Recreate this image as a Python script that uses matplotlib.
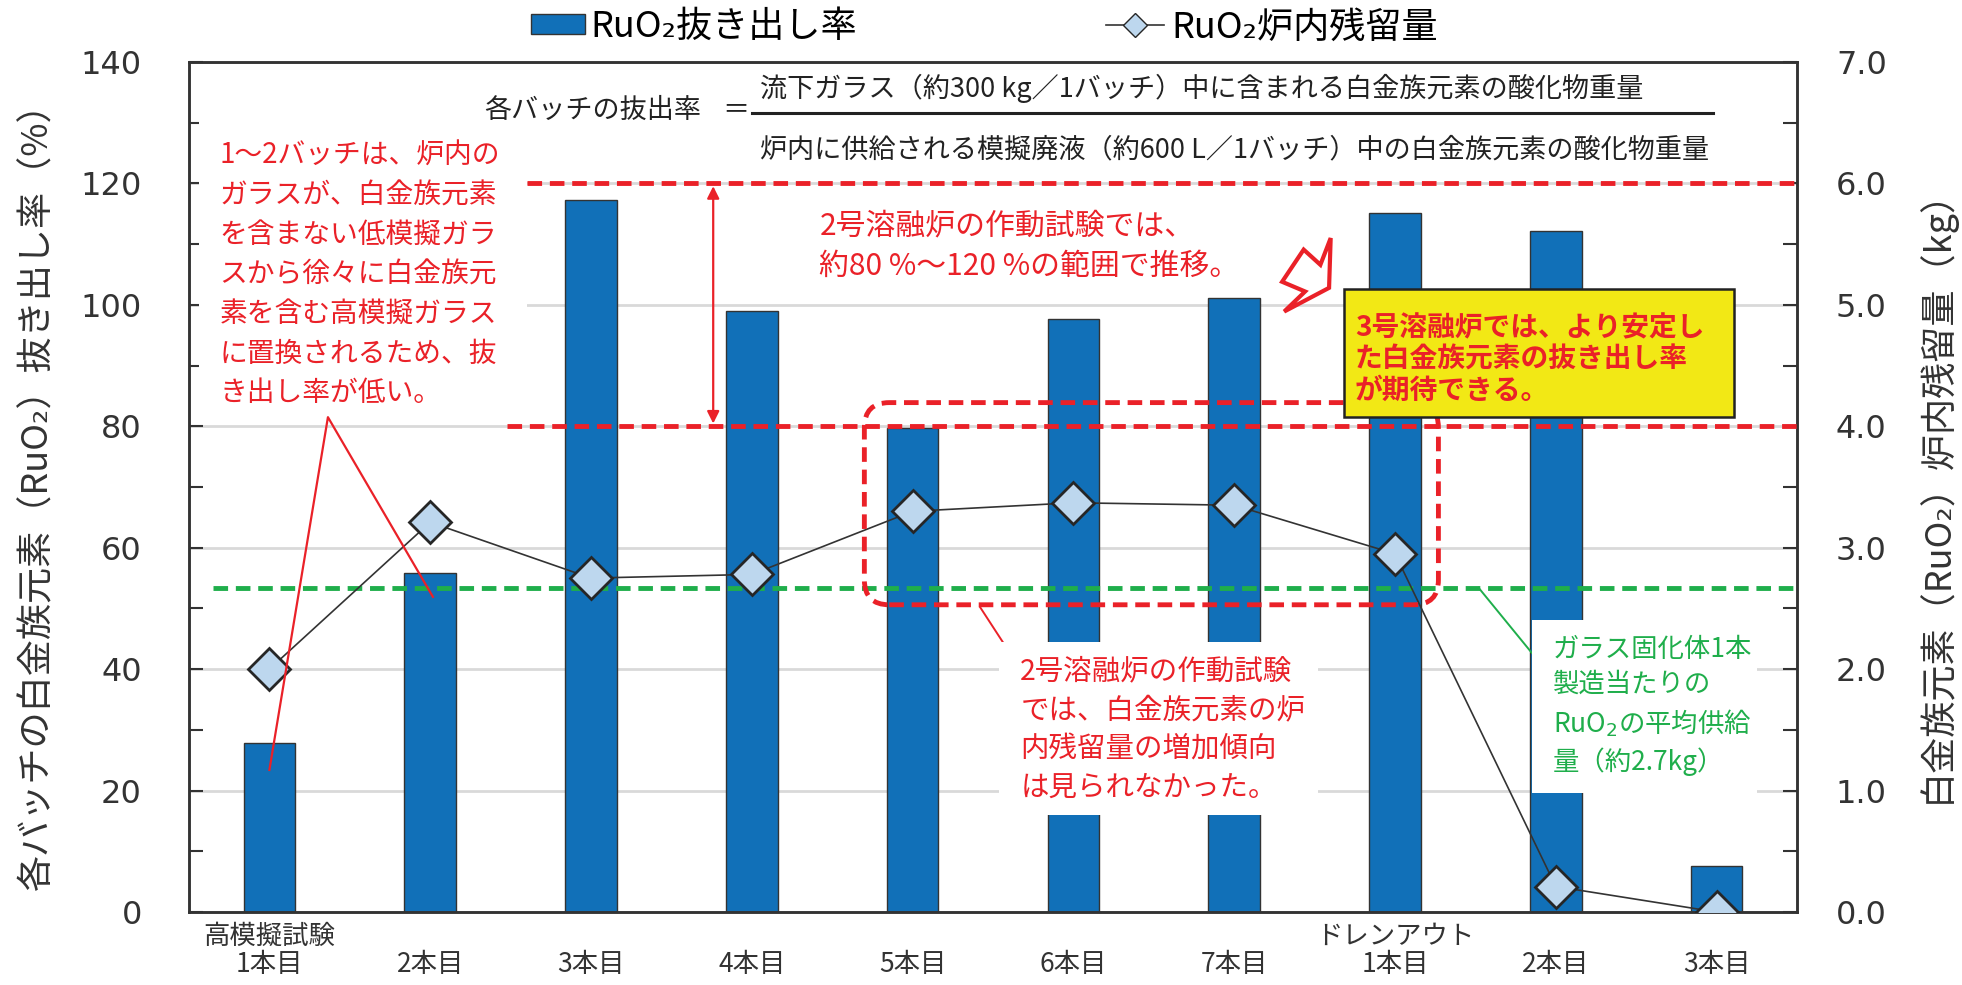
import matplotlib
matplotlib.use('Agg')
import matplotlib.pyplot as plt
from matplotlib.patches import FancyBboxPatch, Polygon, Patch, Rectangle
from matplotlib.lines import Line2D

plt.rcParams['font.family'] = ['Noto Sans CJK JP', 'DejaVu Sans']

# data
batches = ['高模擬試験\n1本目', '\n2本目', '\n3本目', '\n4本目', '\n5本目',
           '\n6本目', '\n7本目', 'ドレンアウト\n1本目', '\n2本目', '\n3本目']
extraction_rate = [27.8, 55.8, 117.3, 99.0, 79.8, 97.6, 101.1, 115.1, 112.2, 7.5]   # %
residue_kg = [2.0, 3.21, 2.75, 2.78, 3.30, 3.37, 3.35, 2.95, 0.21, 0.0]             # kg
avg_supply_kg = 2.67
range_low, range_high = 80, 120

RED = '#ea2128'
GREEN = '#1fae4b'
BLUE = '#1170b8'
DARK = '#333333'

fig = plt.figure(figsize=(19.62, 9.85), dpi=100)
ax = fig.add_axes([189 / 1962, 73 / 985, 1608 / 1962, 850 / 985])
ax2 = ax.twinx()

x = list(range(len(batches)))
ax.bar(x, extraction_rate, width=0.32, color=BLUE, edgecolor=DARK, linewidth=1, zorder=2)
ax.set_xlim(-0.5, 9.5)
ax.set_ylim(0, 140)
ax.set_yticks(range(0, 141, 20))
ax.set_yticks(range(10, 140, 20), minor=True)
ax.yaxis.grid(True, color='#d9d9d9', linewidth=2)
ax.set_axisbelow(True)
ax.set_xticks(x)
ax.set_xticklabels(batches, fontsize=19, linespacing=1.05, color=DARK)
ax.tick_params(axis='x', length=0, pad=8)
ax.tick_params(axis='y', which='both', direction='in', length=10, width=1.5,
               labelsize=23, pad=34, colors=DARK)
for lab in ax.get_yticklabels():
    lab.set_fontfamily('DejaVu Sans')
ax.set_ylabel('各バッチの白金族元素（RuO₂）抜き出し率（%）', fontsize=26, color=DARK)
ax.yaxis.set_label_coords(-0.083, 0.5)

ax2.set_ylim(0, 7)
ax2.set_yticks([0, 1, 2, 3, 4, 5, 6, 7])
ax2.set_yticks([0.5, 1.5, 2.5, 3.5, 4.5, 5.5, 6.5], minor=True)
ax2.set_yticklabels([f'{v:.1f}' for v in range(8)])
ax2.tick_params(axis='y', which='both', direction='in', length=10, width=1.5,
                labelsize=23, pad=28, colors=DARK)
for lab in ax2.get_yticklabels():
    lab.set_fontfamily('DejaVu Sans')
ax2.set_ylabel('白金族元素（RuO₂）炉内残留量（kg）', fontsize=26, color=DARK)
ax2.yaxis.set_label_coords(1.074, 0.5)
for a in (ax, ax2):
    for s in a.spines.values():
        s.set_color(DARK)
        s.set_linewidth(1.8)

T = ax.transData

# reference lines
ax2.plot([1.60, 9.5], [range_high, range_high], transform=T, color=RED, lw=3.5,
         linestyle=(0, (3, 1.6)), zorder=3)
ax2.plot([1.48, 9.5], [range_low, range_low], transform=T, color=RED, lw=3.5,
         linestyle=(0, (3, 1.6)), zorder=3)
ax2.axhline(avg_supply_kg, xmin=0.015, xmax=1, color=GREEN, lw=3.5,
            linestyle=(0, (3, 1.6)), zorder=3)

# residue line
ax2.plot(x, residue_kg, color=DARK, lw=1.2, marker='D', markersize=21,
         markerfacecolor='#bdd7ee', markeredgecolor='#262626', markeredgewidth=2, zorder=5)

# double arrow for range
ax2.annotate('', xy=(2.76, range_low), xytext=(2.76, range_high), xycoords=T, textcoords=T,
             arrowprops=dict(arrowstyle='<|-|>', color=RED, lw=1.6, mutation_scale=18),
             zorder=6)
ax2.text(3.42, 109.7, '2号溶融炉の作動試験では、\n約80 %～120 %の範囲で推移。', transform=T,
         fontsize=21.5, color=RED, va='center', ha='left', linespacing=1.4, zorder=6)

# formula
ax2.text(1.335, 132.1, '各バッチの抜出率', transform=T, fontsize=19.5, color='#222222',
         va='center', ha='left', zorder=6)
ax2.text(2.90, 132.1, '＝', transform=T, fontsize=19.5, color='#222222',
         va='center', ha='center', zorder=6)
ax2.plot([3.0, 8.98], [131.6, 131.6], transform=T, color='#222222', lw=2.2, zorder=6)
ax2.text(3.05, 135.7, '流下ガラス（約300 kg／1バッチ）中に含まれる白金族元素の酸化物重量',
         transform=T, fontsize=19.5, color='#222222', va='center', ha='left', zorder=6)
ax2.text(3.05, 125.5, '炉内に供給される模擬廃液（約600 L／1バッチ）中の白金族元素の酸化物重量',
         transform=T, fontsize=19.5, color='#222222', va='center', ha='left', zorder=6)

# left note
ax2.add_patch(Rectangle((-0.44, 81.8), 2.04, 57.5, transform=T, facecolor='white',
                        edgecolor='none', zorder=4))
ax2.text(-0.31, 105.0,
         '1～2バッチは、炉内の\nガラスが、白金族元素\nを含まない低模擬ガラ\nスから徐々に白金族元\n'
         '素を含む高模擬ガラス\nに置換されるため、抜\nき出し率が低い。',
         transform=T, fontsize=20, color=RED, va='center', ha='left', linespacing=1.42, zorder=6)
ax2.plot([0.0, 0.364, 1.017], [23.4, 81.5, 51.9], transform=T, color=RED, lw=1.6, zorder=6)

# dashed rounded frame around stable residues
ax2.add_patch(FancyBboxPatch((3.70, 50.6), 3.57, 33.3, transform=T,
                             boxstyle='round,pad=0,rounding_size=0.155', mutation_aspect=26.5,
                             facecolor='none', edgecolor=RED, lw=3.5,
                             linestyle=(0, (3, 1.6)), zorder=6))
ax2.plot([4.42, 4.56], [50.2, 44.5], transform=T, color=RED, lw=1.4, zorder=6)
ax2.add_patch(Rectangle((4.54, 16.0), 1.98, 28.5, transform=T, facecolor='white',
                        edgecolor='none', zorder=7))
ax2.text(4.67, 30.0, '2号溶融炉の作動試験\nでは、白金族元素の炉\n内残留量の増加傾向\nは見られなかった。',
         transform=T, fontsize=20.5, color=RED, va='center', ha='left', linespacing=1.38, zorder=8)

# green note
ax2.plot([7.52, 7.85], [53.4, 42.7], transform=T, color=GREEN, lw=1.4, zorder=6)
ax2.add_patch(Rectangle((7.85, 19.6), 1.4, 28.5, transform=T, facecolor='white',
                        edgecolor='none', zorder=7))
ax2.text(7.98, 33.9, 'ガラス固化体1本\n製造当たりの\nRuO$_2$の平均供給\n量（約2.7kg）',
         transform=T, fontsize=19, color=GREEN, va='center', ha='left', linespacing=1.38, zorder=8)

# yellow box
ax2.add_patch(Rectangle((6.68, 81.5), 2.43, 21.1, transform=T, facecolor='#f2e815',
                        edgecolor='#222222', lw=1.8, zorder=7))
ax2.text(6.75, 91.0, '3号溶融炉では、より安定し\nた白金族元素の抜き出し率\nが期待できる。',
         transform=T, fontsize=20, fontweight='bold', color=RED, va='center', ha='left',
         linespacing=1.15, zorder=8)

# callout bolt
bolt = [(6.600, 111.0), (6.590, 102.8), (6.311, 98.9), (6.441, 102.2),
        (6.298, 103.8), (6.432, 109.1), (6.536, 106.6)]
ax2.add_patch(Polygon(bolt, closed=True, transform=T, facecolor='white', edgecolor=RED,
                      lw=3, zorder=8))

# legends
h1 = Patch(facecolor=BLUE, edgecolor=DARK, linewidth=1)
h2 = Line2D([], [], color=DARK, lw=1.2, marker='D', markersize=12,
            markerfacecolor='#bdd7ee', markeredgecolor='#262626')
fig.legend([h1], ['RuO₂抜き出し率'], loc='center left', bbox_to_anchor=(531 / 1962, 1 - 27 / 985),
           frameon=False, fontsize=26, borderpad=0, borderaxespad=0, handlelength=1.5,
           handleheight=0.47, handletextpad=0.15)
fig.legend([h2], ['RuO₂炉内残留量'], loc='center left', bbox_to_anchor=(1106 / 1962, 1 - 28 / 985),
           frameon=False, fontsize=26, borderpad=0, borderaxespad=0, handlelength=1.6,
           handletextpad=0.2)

fig.savefig('out.png', dpi=100)
